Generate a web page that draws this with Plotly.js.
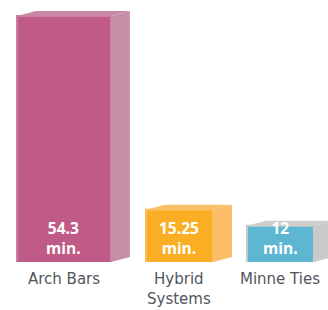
<!DOCTYPE html>
<html><head><meta charset="utf-8">
<script src="https://cdn.plot.ly/plotly-3.0.1.min.js"></script>
<style>html,body{margin:0;padding:0;background:#fff;}#chart{width:328px;height:310px;}</style>
</head><body><div id="chart"></div>
<script>
const categories = ["Arch Bars", "Hybrid Systems", "Minne Ties"];
const tickLabels = ["Arch Bars", "Hybrid<br>Systems", "Minne Ties"];
const minutes = [54.3, 15.25, 12];
const valueLabels = ["54.3<br>min.", "15.25<br>min.", "12<br>min."];

const frontColors = ["#c05a87", "#f9ae24", "#5db7d3"];
const edgeColors = ["#cc7ba1", "#fbbd5a", "#c9c9c9"];
const sideColors = ["#c78ea8", "#fbbd67", "#c9c9c9"];
const topColors = ["#c987a6", "#fbbf6a", "#cfcfcf"];
const barWidths = [0.868, 0.619, 0.619];
const barOffsets = [-0.434, -0.2425, -0.31];
const depthX = 0.175, depthY = 1.0;
const yMin = 4.7, yMax = 57.5;

const xs = categories.map((_, i) => i);
const shapes = [];
const annotations = [];
xs.forEach((i) => {
  const x0 = i + barOffsets[i], x1 = x0 + barWidths[i], v = minutes[i];
  shapes.push({type: 'path', xref: 'x', yref: 'y', layer: 'above',
    path: `M ${x1},${yMin} L ${x1 + depthX},${yMin + depthY} L ${x1 + depthX},${v + depthY} L ${x1},${v} Z`,
    fillcolor: sideColors[i], line: {width: 0}});
  shapes.push({type: 'path', xref: 'x', yref: 'y', layer: 'above',
    path: `M ${x0},${v} L ${x0 + depthX},${v + depthY} L ${x1 + depthX},${v + depthY} L ${x1},${v} Z`,
    fillcolor: topColors[i], line: {width: 0}});
  annotations.push({x: (x0 + x1) / 2, xref: 'x', y: 0, yref: 'paper', yanchor: 'top', yshift: -6,
    text: tickLabels[i], showarrow: false, align: 'center',
    font: {family: 'DejaVu Sans, sans-serif', size: 15, color: '#50565c', weight: 'normal'}});
  annotations.push({x: (x0 + x1) / 2, xref: 'x', y: yMin, yref: 'y', yanchor: 'bottom', yshift: 1,
    text: valueLabels[i], showarrow: false, align: 'center',
    font: {family: 'Open Sans, sans-serif', size: 15.5, color: '#ffffff', weight: 'bold'}});
});

const trace = {
  type: 'bar', x: xs, y: minutes, width: barWidths, offset: barOffsets,
  marker: {color: frontColors, line: {color: edgeColors, width: 2}},
  hoverinfo: 'skip'
};

const layout = {
  width: 328, height: 310, margin: {l: 0, r: 0, t: 0, b: 48},
  paper_bgcolor: '#ffffff', plot_bgcolor: '#ffffff', showlegend: false,
  xaxis: {range: [-0.591, 2.439], visible: false, fixedrange: true},
  yaxis: {range: [yMin, yMax], visible: false, fixedrange: true},
  shapes: shapes, annotations: annotations
};
Plotly.newPlot('chart', [trace], layout, {staticPlot: true, displayModeBar: false});
</script></body></html>
